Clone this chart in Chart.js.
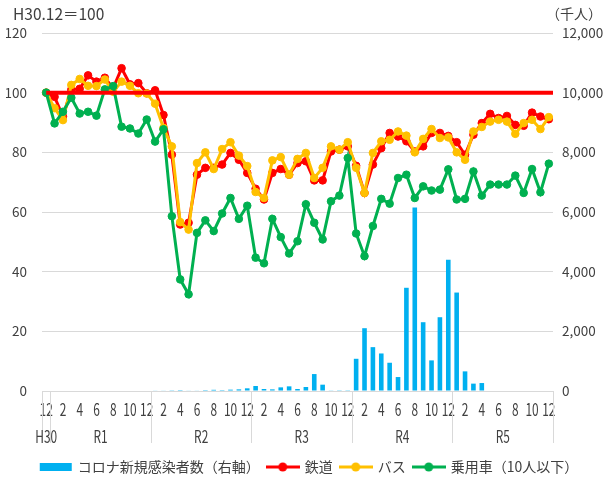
<!DOCTYPE html>
<html lang="ja">
<head>
<meta charset="utf-8">
<title>輸送機関別の推移</title>
<script src="https://cdn.jsdelivr.net/npm/chart.js@4.4.1/dist/chart.umd.min.js"></script>
<style>
  html, body { margin: 0; padding: 0; background: #fff; }
  #wrap { width: 606px; height: 479px; }
</style>
</head>
<body>
<div id="wrap"><canvas id="chart"></canvas></div>
<script>
'use strict'

// 月（H30.12 ～ R5.12）
var months = [
    12,
    1, 2, 3, 4, 5, 6, 7, 8, 9, 10, 11, 12,
    1, 2, 3, 4, 5, 6, 7, 8, 9, 10, 11, 12,
    1, 2, 3, 4, 5, 6, 7, 8, 9, 10, 11, 12,
    1, 2, 3, 4, 5, 6, 7, 8, 9, 10, 11, 12,
    1, 2, 3, 4, 5, 6, 7, 8, 9, 10, 11, 12
]
var eras = ['H30', 'R1', 'R2', 'R3', 'R4', 'R5']
var eraMonths = [1, 12, 12, 12, 12, 12]

// H30.12 = 100
var rail = [
    100,
    98.6, 92, 101, 101.3, 105.8, 103.7, 105, 101.5, 108.2, 102.8, 103.2, 99.8,
    100.8, 92.5, 79.2, 55.8, 56.4, 72.5, 74.8, 74.8, 75.9, 79.8, 77.5, 73.1,
    67.8, 64.2, 73.1, 74.4, 72.5, 76.4, 77, 70.6, 70.6, 80.3, 80.9, 82,
    75.5, 66.4, 75.9, 81.4, 86.5, 85.3, 83.7, 80.3, 82, 86.5, 86.5, 85.5,
    83.4, 79.2, 85.9, 89.8, 92.9, 91.5, 92.2, 89.2, 88.9, 93.3, 92, 91.1
]
var bus = [
    100,
    94.8, 90.8, 102.6, 104.6, 102.3, 102.2, 104.4, 100.3, 103.7, 102.3, 99.8, 99.7,
    96.3, 88.2, 82, 56.6, 54.1, 76.4, 80, 74.4, 81.1, 83.4, 78.9, 75.4,
    66.7, 64.7, 77.3, 78.4, 72.5, 77.8, 79.8, 71.4, 74.8, 82, 80.9, 83.4,
    74.8, 66.4, 79.8, 83.7, 84.2, 87, 85.6, 80, 84.5, 87.8, 84.8, 85,
    80, 77.5, 87, 88.5, 90.3, 90.9, 90.3, 86.2, 89.8, 90.9, 87.8, 91.8
]
var car = [
    100,
    89.7, 93.6, 98.3, 93, 93.6, 92.3, 101.1, 102.2, 88.6, 88, 86.3, 91,
    83.6, 87.7, 58.6, 37.4, 32.4, 53, 57.2, 53.6, 59.5, 64.7, 57.7, 62.1,
    44.7, 42.8, 57.7, 51.6, 46.1, 50.2, 62.6, 56.4, 50.8, 63.6, 65.5, 78.1,
    52.8, 45.2, 55.3, 64.4, 62.8, 71.4, 72.5, 64.7, 68.6, 67.2, 67.5, 74.3,
    64.2, 64.4, 73.6, 65.5, 69.2, 69.2, 69.2, 72.2, 66.4, 74.4, 66.6, 76.2
]
// コロナ新規感染者数（千人）
var cases = [
    null,
    null, null, null, null, null, null, null, null, null, null, null, null,
    20, 20, 25, 30, 20, 20, 30, 40, 30, 45, 55, 90,
    167, 67, 55, 122, 156, 67, 134, 568, 212, 22, 8, 8,
    1080, 2105, 1470, 1258, 947, 468, 3460, 6150, 2306, 1026, 2473, 4400,
    3300, 658, 247, 267, null, null, null, null, null, null, null, null
]
var baseIndex = 100
var leftTitle = 'H30.12＝100'
var rightTitle = '（千人）'

var textColor = '#404040'
var gridColor = '#d9d9d9'
var jpFont = "'Noto Sans CJK JP', 'Noto Sans', sans-serif"

// legend icons
function makeIcon(kind, color) {
    var c = document.createElement('canvas')
    c.width = 34
    c.height = 12
    var g = c.getContext('2d')
    g.fillStyle = color
    g.strokeStyle = color
    if (kind === 'bar') {
        g.fillRect(1, 2, 32, 8)
    } else {
        g.lineWidth = 3
        g.beginPath()
        g.moveTo(0, 6)
        g.lineTo(34, 6)
        g.stroke()
        g.beginPath()
        g.arc(17, 6, 4.5, 0, Math.PI * 2)
        g.fill()
    }
    return c
}

// condensed text, like the narrow labels under the axis
function narrowText(ctx, text, x, y) {
    ctx.save()
    ctx.translate(x, y)
    ctx.scale(0.7, 1)
    ctx.fillText(text, 0, 0)
    ctx.restore()
}

var monthAxisPlugin = {
    id: 'monthAxis',
    afterDraw: function (chart) {
        var x = chart.scales.x
        var ctx = chart.ctx
        var half = (x.getPixelForValue(1) - x.getPixelForValue(0)) / 2
        var top = chart.chartArea.bottom
        ctx.save()
        ctx.strokeStyle = gridColor
        ctx.lineWidth = 1
        ctx.fillStyle = textColor
        ctx.font = '17px ' + jpFont
        ctx.textAlign = 'center'
        ctx.textBaseline = 'middle'

        // month ticks (every other month)
        months.forEach(function (m, i) {
            if (m % 2 === 0) narrowText(ctx, String(m), x.getPixelForValue(i), top + 19)
        })

        // era groups
        function vline(px) {
            px = Math.round(px) + 0.5
            ctx.beginPath()
            ctx.moveTo(px, top)
            ctx.lineTo(px, top + 52)
            ctx.stroke()
        }
        var start = 0
        eras.forEach(function (era, i) {
            var end = start + eraMonths[i] - 1
            var x0 = x.getPixelForValue(start) - half
            var x1 = x.getPixelForValue(end) + half
            vline(x0)
            if (i === eras.length - 1) vline(x1)
            narrowText(ctx, era, (x0 + x1) / 2, top + 46)
            start = end + 1
        })
        ctx.restore()
    }
}

var titlePlugin = {
    id: 'axisTitles',
    afterDraw: function (chart) {
        var ctx = chart.ctx
        ctx.save()
        ctx.fillStyle = textColor
        ctx.font = '15.5px ' + jpFont
        ctx.textBaseline = 'middle'
        ctx.textAlign = 'left'
        ctx.fillText(leftTitle, 13, 14)
        ctx.font = '14px ' + jpFont
        ctx.textAlign = 'right'
        ctx.fillText(rightTitle, 602, 14)
        ctx.restore()
    }
}

var baseLinePlugin = {
    id: 'baseLine',
    afterDatasetsDraw: function (chart) {
        var ctx = chart.ctx
        var y = chart.scales.y.getPixelForValue(baseIndex)
        ctx.save()
        ctx.strokeStyle = '#ff0000'
        ctx.lineWidth = 4
        ctx.beginPath()
        ctx.moveTo(chart.scales.x.getPixelForValue(0), y)
        ctx.lineTo(chart.chartArea.right, y)
        ctx.stroke()
        ctx.restore()
    }
}

function lineSet(label, data, color, order) {
    return {
        type: 'line',
        label: label,
        data: data,
        yAxisID: 'y',
        borderColor: color,
        backgroundColor: color,
        borderWidth: 3,
        pointRadius: 3.8,
        pointBorderWidth: 1,
        pointBackgroundColor: color,
        pointBorderColor: color,
        tension: 0,
        order: order
    }
}

var icons = [
    makeIcon('bar', '#00b0f0'),
    makeIcon('line', '#ff0000'),
    makeIcon('line', '#ffc000'),
    makeIcon('line', '#00b050')
]

new Chart(document.getElementById('chart'), {
    type: 'bar',
    data: {
        labels: months,
        datasets: [
            {
                label: 'コロナ新規感染者数（右軸）',
                data: cases,
                yAxisID: 'y1',
                backgroundColor: '#00b0f0',
                barPercentage: 0.55,
                categoryPercentage: 1,
                order: 4
            },
            lineSet('鉄道', rail, '#ff0000', 3),
            lineSet('バス', bus, '#ffc000', 2),
            lineSet('乗用車（10人以下）', car, '#00b050', 1)
        ]
    },
    options: {
        responsive: true,
        maintainAspectRatio: false,
        animation: false,
        layout: {
            // the negative sides only nudge the legend; the axes widths below keep the plot in place
            padding: { top: 33, left: 6, right: -7, bottom: -5 }
        },
        scales: {
            x: {
                offset: true,
                grid: { display: false, drawTicks: false },
                border: { display: false },
                ticks: { display: false },
                afterFit: function (scale) { scale.height = 61 }
            },
            y: {
                position: 'left',
                min: 0,
                max: 120,
                ticks: { stepSize: 20, padding: 15, color: textColor, font: { family: jpFont, size: 13.5 } },
                grid: { color: gridColor, drawTicks: false },
                border: { display: false },
                afterFit: function (scale) { scale.width = 36 }
            },
            y1: {
                position: 'right',
                min: 0,
                max: 12000,
                ticks: {
                    stepSize: 2000,
                    padding: 9,
                    color: textColor,
                    font: { family: jpFont, size: 13.5 },
                    callback: function (v) { return v.toLocaleString('en-US') }
                },
                grid: { drawOnChartArea: false, drawTicks: false },
                border: { display: false },
                afterFit: function (scale) { scale.width = 60 }
            }
        },
        plugins: {
            legend: {
                position: 'bottom',
                labels: {
                    usePointStyle: true,
                    pointStyleWidth: 30,
                    padding: 8,
                    color: textColor,
                    font: { family: jpFont, size: 14 },
                    sort: function (a, b) { return a.datasetIndex - b.datasetIndex },
                    generateLabels: function (chart) {
                        var items = Chart.defaults.plugins.legend.labels.generateLabels(chart)
                        items.forEach(function (it) { it.pointStyle = icons[it.datasetIndex] })
                        return items
                    }
                }
            },
            tooltip: { enabled: false }
        }
    },
    plugins: [monthAxisPlugin, titlePlugin, baseLinePlugin]
})
</script>
</body>
</html>
